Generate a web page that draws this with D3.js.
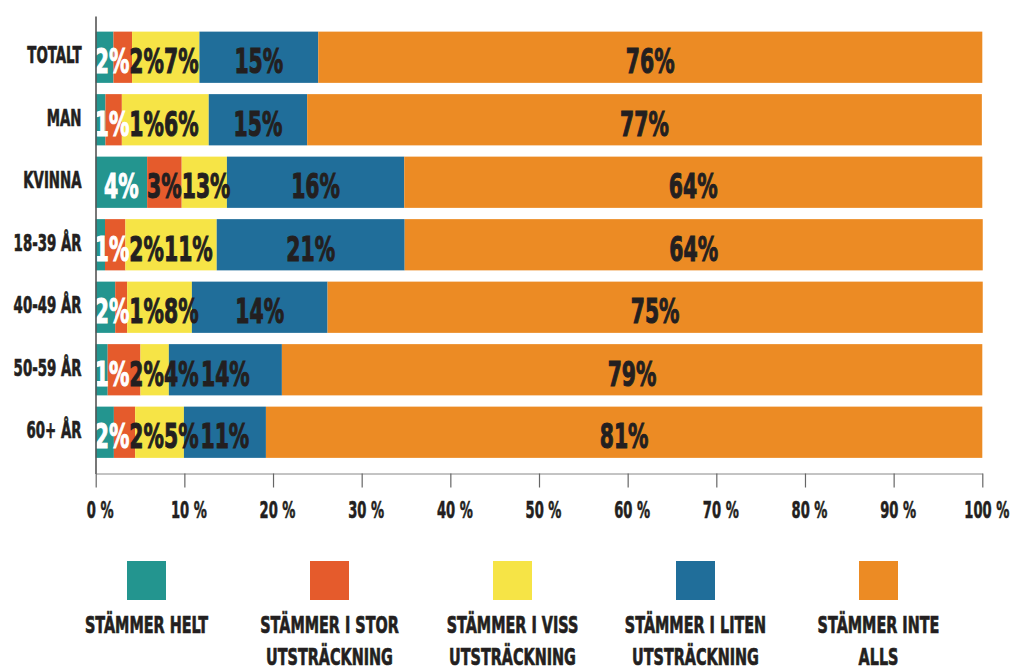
<!DOCTYPE html>
<html>
<head>
<meta charset="utf-8">
<script src="https://cdn.jsdelivr.net/npm/d3@7"></script>
<style>
  body { margin: 0; background: #fff; }
  svg { display: block; }
  text { font-family: "DejaVu Sans", sans-serif; font-weight: bold; fill: #231f20; }
</style>
</head>
<body>
<svg id="chart" width="1015" height="666"></svg>
<script>
const categories = ["TOTALT", "MAN", "KVINNA", "18-39 ÅR", "40-49 ÅR", "50-59 ÅR", "60+ ÅR"];
const seriesKeys = ["helt", "stor", "viss", "liten", "inte"];

// segment widths (percent)
const helt  = [2.0, 1.1, 5.8, 1.05, 2.2, 1.35, 2.05];
const stor  = [2.1, 1.85, 3.9, 2.3, 1.35, 3.7, 2.4];
const viss  = [7.6, 9.8, 5.1, 10.3, 7.3, 3.2, 5.5];
const liten = [13.4, 11.1, 20.0, 21.2, 15.3, 12.75, 9.25];
const inte  = [74.9, 76.1, 65.2, 65.2, 73.9, 79.0, 80.8];

// printed labels
const heltLabels  = ["2%", "1%", "4%", "1%", "2%", "1%", "2%"];
const storLabels  = ["2%", "1%", "3%", "2%", "1%", "2%", "2%"];
const vissLabels  = ["7%", "6%", "13%", "11%", "8%", "4%", "5%"];
const litenLabels = ["15%", "15%", "16%", "21%", "14%", "14%", "11%"];
const inteLabels  = ["76%", "77%", "64%", "64%", "75%", "79%", "81%"];

const legendLines = [
  ["STÄMMER HELT"],
  ["STÄMMER I STOR", "UTSTRÄCKNING"],
  ["STÄMMER I VISS", "UTSTRÄCKNING"],
  ["STÄMMER I LITEN", "UTSTRÄCKNING"],
  ["STÄMMER INTE", "ALLS"]
];
const xTicks = [0, 10, 20, 30, 40, 50, 60, 70, 80, 90, 100];

const colors = {
  helt: "#23958f", stor: "#e55b2c", viss: "#f6e446", liten: "#206e9a", inte: "#ec8b24"
};
const values = { helt, stor, viss, liten, inte };
const labels = { helt: heltLabels, stor: storLabels, viss: vissLabels, liten: litenLabels, inte: inteLabels };

const table = categories.map((c, i) => {
  const row = { cat: c, i };
  seriesKeys.forEach(k => row[k] = values[k][i]);
  return row;
});

const svg = d3.select("#chart");

const x = d3.scaleLinear().domain([0, 100]).range([95.7, 982.3]);
const y = d3.scaleBand().domain(categories).range([16, 473.5])
  .paddingInner(0.18).paddingOuter(0.25);

const stacked = d3.stack().keys(seriesKeys)(table);

const layers = svg.append("g").selectAll("g")
  .data(stacked)
  .join("g")
  .attr("fill", d => colors[d.key]);

layers.selectAll("rect")
  .data(d => d)
  .join("rect")
  .attr("x", d => x(d[0]))
  .attr("y", d => y(d.data.cat))
  .attr("width", d => x(d[1]) - x(d[0]))
  .attr("height", y.bandwidth());

// value labels: centred on the segment, pushed right when they would collide
const labelScale = 0.6;
const labelLayer = svg.append("g");
categories.forEach((cat, i) => {
  let minLeft = x(0) - 1;
  stacked.forEach(layer => {
    const seg = layer[i];
    const color = layer.key === "helt" ? "#fff" : "#231f20";
    const t = labelLayer.append("text")
      .style("font-size", "34px")
      .style("fill", color)
      .style("stroke", color)
      .style("stroke-width", 1.1)
      .text(labels[layer.key][i]);
    const w = t.node().getBBox().width * labelScale;
    const left = Math.max(minLeft, (x(seg[0]) + x(seg[1])) / 2 - w / 2);
    minLeft = left + w;
    t.attr("transform", `translate(${left},${y(cat) + y.bandwidth() / 2 + 16}) scale(${labelScale},1)`);
  });
});

// category axis
const yAxis = svg.append("g")
  .attr("transform", "translate(95.5,0)")
  .call(d3.axisLeft(y).tickSize(0).tickSizeOuter(0));
yAxis.select(".domain").attr("stroke", "#555").attr("stroke-width", 1.6);
yAxis.selectAll(".tick text")
  .attr("x", 0).attr("dy", null)
  .attr("fill", "#231f20")
  .style("font-size", "23px")
  .style("font-family", "'DejaVu Sans', sans-serif")
  .style("font-weight", "bold")
  .style("stroke", "#231f20").style("stroke-width", 0.7)
  .attr("transform", "translate(-14,6) scale(0.58,1)");

// percent axis
const xAxis = svg.append("g")
  .attr("transform", "translate(0,473.5)")
  .call(d3.axisBottom(x).tickValues(xTicks).tickSize(14).tickSizeOuter(0)
    .tickFormat(d => d + " %"));
xAxis.select(".domain").attr("stroke", "#888").attr("stroke-width", 1);
xAxis.selectAll(".tick line").attr("stroke", "#666").attr("stroke-width", 1.2);
xAxis.selectAll(".tick text")
  .attr("y", 0).attr("dy", null)
  .attr("fill", "#231f20")
  .style("font-size", "23px")
  .style("font-family", "'DejaVu Sans', sans-serif")
  .style("font-weight", "bold")
  .style("stroke", "#231f20").style("stroke-width", 0.6)
  .attr("transform", "translate(4,44) scale(0.57,1)");

// legend
const lx = d3.scalePoint().domain(seriesKeys).range([146.5, 878.5]);
const legend = svg.append("g").selectAll("g")
  .data(seriesKeys)
  .join("g")
  .attr("transform", k => `translate(${lx(k)},0)`);

legend.append("rect")
  .attr("x", -19.5).attr("y", 561)
  .attr("width", 39).attr("height", 39)
  .attr("fill", k => colors[k]);

legend.each(function(k, i) {
  d3.select(this).selectAll("text")
    .data(legendLines[i])
    .join("text")
    .attr("text-anchor", "middle")
    .style("font-size", "22.5px")
    .style("stroke", "#231f20").style("stroke-width", 0.7)
    .attr("transform", (t, j) => `translate(0,${633 + j * 31.5}) scale(0.64,1)`)
    .text(t => t);
});
</script>
</body>
</html>
